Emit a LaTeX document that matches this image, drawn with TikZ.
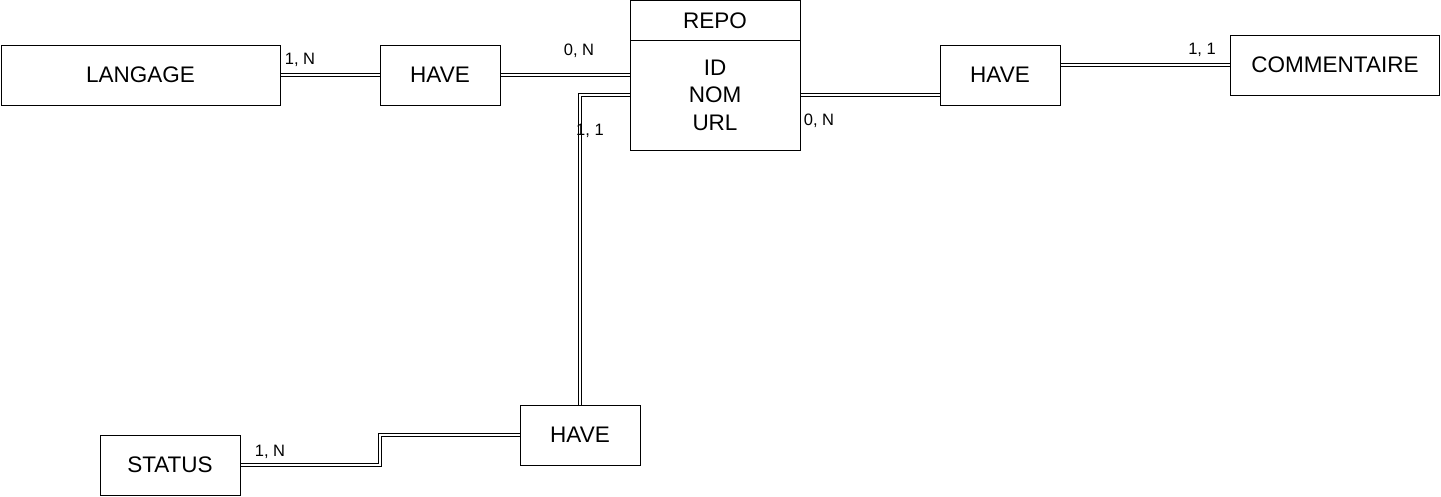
\documentclass[tikz,border=0pt]{standalone}
\usepackage{fontspec}
\setmainfont{Liberation Sans}
\usetikzlibrary{calc}
\begin{document}
\begin{tikzpicture}[x=1pt,y=-1pt,
  ent/.style={draw,line width=1pt,inner sep=0pt,font=\fontsize{22.5}{27}\selectfont,anchor=center},
  card/.style={inner sep=0pt,font=\fontsize{16.5}{19}\selectfont,anchor=center},
  dbl/.style={draw,line width=1pt,double,double distance=2.2pt}]
\useasboundingbox (0,0) rectangle (1441,496);
\node[ent,minimum width=279pt,minimum height=60pt] (lang) at (140.5,75) {LANGAGE};
\node[ent,minimum width=120pt,minimum height=60pt] (have1) at (440,75) {HAVE};
\node[ent,minimum width=170pt,minimum height=40pt] (repohead) at (715,20.5) {REPO};
\node[ent,minimum width=170pt,minimum height=110pt,align=center,
  font=\fontsize{22.5}{27.5}\selectfont] (repobody) at (715,95) {ID\\NOM\\URL};
\node[ent,minimum width=120pt,minimum height=60pt] (have2) at (1000,75) {HAVE};
\node[ent,minimum width=209pt,minimum height=60pt] (comment) at (1335,65) {COMMENTAIRE};
\node[ent,minimum width=120pt,minimum height=60pt] (have3) at (580,435) {HAVE};
\node[ent,minimum width=140pt,minimum height=60pt] (status) at (170,465) {STATUS};
\coordinate (bend) at (380,450);
\draw[dbl] (lang.east) -- (have1.west);
\draw[dbl] (have1.east) -- (have1.east -| repobody.west);
\draw[dbl] (repobody.east) -- (repobody.east -| have2.west);
\draw[dbl] (have2.east |- comment.west) -- (comment.west);
\draw[dbl] (repobody.west) -- (have3.north |- repobody.west) -- (have3.north);
\draw[dbl] (have3.west) -| (bend) |- (status.east);
\node[card] (c1) at (300,60) {1, N};
\node[card] (c2) at (579,51) {0, N};
\node[card] (c3) at (590,131) {1, 1};
\node[card] (c4) at (819,121) {0, N};
\node[card] (c5) at (1202,50) {1, 1};
\node[card] (c6) at (270,452) {1, N};
\end{tikzpicture}
\end{document}
